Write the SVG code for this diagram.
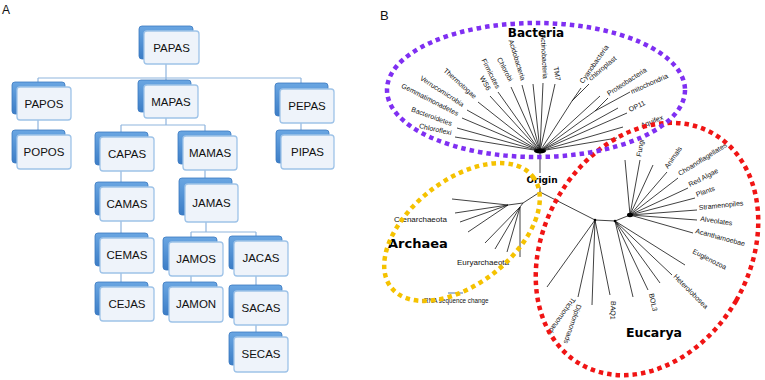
<svg xmlns="http://www.w3.org/2000/svg" width="765" height="380" viewBox="0 0 765 380">
<defs>
<linearGradient id="gBack" x1="0" y1="0" x2="0" y2="1">
<stop offset="0" stop-color="#6aa6e2"/>
<stop offset="1" stop-color="#3c7dc6"/>
</linearGradient>
<style>
.bk{fill:url(#gBack);stroke:#3a78c0;stroke-width:0.8}
.fr{fill:#eef3fa;stroke:#9ec3e8;stroke-width:1.3}
.nt{font-family:"Liberation Sans",Arial,sans-serif;font-size:11.5px;fill:#111;text-anchor:middle}
.cn{stroke:#8fb5de;stroke-width:1.2;fill:none}
.tl{stroke:#111;stroke-width:0.8;fill:none}
.lb{font-family:"Liberation Sans",Arial,sans-serif;font-size:7px;fill:#111}
.le{font-family:"Liberation Sans",Arial,sans-serif;font-size:7px;fill:#111;text-anchor:end}
.ttl{font-family:"DejaVu Sans",Verdana,sans-serif;font-weight:bold;fill:#000}
.dot{fill:none;stroke-width:4.5;stroke-dasharray:4.5 4}
.pl{font-family:"Liberation Sans",Arial,sans-serif;font-size:12px;fill:#111}
</style>
</defs>
<rect width="765" height="380" fill="#fff"/>
<text class="pl" x="2" y="14">A</text>
<text class="pl" x="380" y="20" style="font-size:13px">B</text>

<g id="connectors">
<path class="cn" d="M166,64V78M38,78H301M38,78V87M166,78V85M301,78V89"/>
<path class="cn" d="M38,120V135M301,123V135"/>
<path class="cn" d="M166,118V125M121,125H205M121,125V137M205,125V136"/>
<path class="cn" d="M121,171V187M121,221V238M121,273V287"/>
<path class="cn" d="M205,170V184M206,220V232M191,232H256M191,232V242M256,232V241"/>
<path class="cn" d="M191,276V287M256,276V291M256,325V337"/>
</g>

<g id="n-papas"><rect class="bk" x="139" y="26" width="54" height="33" rx="3"/><rect class="fr" x="144" y="31" width="55" height="33" rx="3"/><text class="nt" x="171.5" y="52">PAPAS</text></g>
<g id="n-papos"><rect class="bk" x="12" y="82" width="53" height="32" rx="3"/><rect class="fr" x="17" y="87" width="54" height="33" rx="3"/><text class="nt" x="44" y="108">PAPOS</text></g>
<g id="n-mapas"><rect class="bk" x="138" y="80" width="53" height="32" rx="3"/><rect class="fr" x="144" y="85" width="54" height="33" rx="3"/><text class="nt" x="171" y="106">MAPAS</text></g>
<g id="n-pepas"><rect class="bk" x="275" y="83" width="53" height="33" rx="3"/><rect class="fr" x="280" y="89" width="54" height="34" rx="3"/><text class="nt" x="307" y="110">PEPAS</text></g>
<g id="n-popos"><rect class="bk" x="12" y="130" width="53" height="33" rx="3"/><rect class="fr" x="17" y="135" width="54" height="34" rx="3"/><text class="nt" x="44" y="156">POPOS</text></g>
<g id="n-capas"><rect class="bk" x="95" y="132" width="53" height="33" rx="3"/><rect class="fr" x="100" y="137" width="54" height="34" rx="3"/><text class="nt" x="127" y="158">CAPAS</text></g>
<g id="n-mamas"><rect class="bk" x="178" y="131" width="53" height="33" rx="3"/><rect class="fr" x="183" y="136" width="54" height="34" rx="3"/><text class="nt" x="210" y="157">MAMAS</text></g>
<g id="n-pipas"><rect class="bk" x="276" y="130" width="53" height="33" rx="3"/><rect class="fr" x="281" y="135" width="53" height="34" rx="3"/><text class="nt" x="307.5" y="156">PIPAS</text></g>
<g id="n-camas"><rect class="bk" x="95" y="182" width="53" height="33" rx="3"/><rect class="fr" x="100" y="187" width="54" height="34" rx="3"/><text class="nt" x="127" y="208">CAMAS</text></g>
<g id="n-jamas"><rect class="bk" x="179" y="178" width="53" height="37" rx="3"/><rect class="fr" x="185" y="184" width="53" height="38" rx="3"/><text class="nt" x="211.5" y="207">JAMAS</text></g>
<g id="n-cemas"><rect class="bk" x="95" y="233" width="53" height="33" rx="3"/><rect class="fr" x="100" y="238" width="54" height="35" rx="3"/><text class="nt" x="127" y="259">CEMAS</text></g>
<g id="n-jamos"><rect class="bk" x="163" y="237" width="54" height="33" rx="3"/><rect class="fr" x="169" y="242" width="54" height="34" rx="3"/><text class="nt" x="196" y="263">JAMOS</text></g>
<g id="n-jacas"><rect class="bk" x="229" y="236" width="53" height="33" rx="3"/><rect class="fr" x="234" y="241" width="54" height="35" rx="3"/><text class="nt" x="261" y="262">JACAS</text></g>
<g id="n-cejas"><rect class="bk" x="95" y="282" width="53" height="33" rx="3"/><rect class="fr" x="100" y="287" width="54" height="34" rx="3"/><text class="nt" x="127" y="308">CEJAS</text></g>
<g id="n-jamon"><rect class="bk" x="163" y="282" width="54" height="33" rx="3"/><rect class="fr" x="169" y="287" width="54" height="35" rx="3"/><text class="nt" x="196" y="308">JAMON</text></g>
<g id="n-sacas"><rect class="bk" x="229" y="285" width="53" height="33" rx="3"/><rect class="fr" x="234" y="291" width="54" height="34" rx="3"/><text class="nt" x="261" y="312">SACAS</text></g>
<g id="n-secas"><rect class="bk" x="229" y="332" width="53" height="33" rx="3"/><rect class="fr" x="234" y="337" width="54" height="35" rx="3"/><text class="nt" x="261" y="358">SECAS</text></g>

<g id="tree-lines">
<path class="tl" d="M540,151L455,137M540,151L457,128M540,151L462,118M540,151L467,110M540,151L478,102M540,151L490,96M540,151L498,92M540,151L511,87M540,151L522,85M540,151L533,84M540,151L543,83M540,151L555,84"/>
<path class="tl" d="M540,151L572,101L581,88M572,101L589,84M540,151L600,96M540,151L595,111L608,98M595,111L630,92M540,151L618,108M540,151L627,113M540,151L623,127M540,151L617,138"/>
<ellipse cx="540" cy="151" rx="6" ry="2.5" fill="#000"/>
<path class="tl" d="M540,151V173M540,187V192"/>
<path class="tl" d="M540,192L523,203L508,205M523,203L520,207"/>
<path class="tl" d="M508,205L452,199M508,205L455,213M508,205L460,222M508,205L468,232"/>
<path class="tl" d="M520,207L485,243M520,207L495,249M520,207L507,252M520,207L520,257"/>
<path class="tl" d="M540,192L595,220L615,221L630,215"/>
<path class="tl" d="M630,215L625,160M630,215L640,160M630,215L653,165M630,215L667,172M630,215L678,178M630,215L688,188M630,215L695,198M630,215L697,210M630,215L697,220M630,215L693,233"/>
<ellipse cx="630" cy="215" rx="3" ry="2.2" fill="#000"/>
<path class="tl" d="M615,221L685,265M615,221L672,275M615,221L660,283M615,221L648,290M615,221L633,297"/>
<path class="tl" d="M595,220L547,287M595,220L578,297M595,220L592,305M595,220L610,295"/>
<circle cx="595" cy="220" r="1.3" fill="#000"/>
<circle cx="615" cy="221" r="1.3" fill="#000"/>
<path d="M448,293H463" stroke="#8aa2c4" stroke-width="1.5"/>
</g>

<g id="tree-labels">
<text class="le" transform="translate(451,135) rotate(12)">Chloroflexi</text>
<text class="le" transform="translate(451,126) rotate(20)">Bacteroidetes</text>
<text class="le" transform="translate(457,116) rotate(27)">Gemmatimonadetes</text>
<text class="le" transform="translate(462,107) rotate(33)">Verrucomicrobia</text>
<text class="le" transform="translate(474,99) rotate(42)">Thermotogae</text>
<text class="le" transform="translate(487,91) rotate(60)">WS6</text>
<text class="le" transform="translate(496,89) rotate(63)">Firmicutes</text>
<text class="le" transform="translate(509,82) rotate(62)">Chlorobi</text>
<text class="le" transform="translate(521,81) rotate(73)">Acidobacteria</text>
<text class="le" transform="translate(543,79) rotate(87)">Actinobacteria</text>
<text class="le" transform="translate(556,81) rotate(80)">TM7</text>
<text class="lb" transform="translate(583,84) rotate(-55)">Cyanobacteria</text>
<text class="lb" transform="translate(591,81) rotate(-40)">chloroplast</text>
<text class="lb" transform="translate(609,96) rotate(-33)">Proteobacteria</text>
<text class="lb" transform="translate(632,94) rotate(-24)">mitochondria</text>
<text class="lb" transform="translate(630,112) rotate(-25)">OP11</text>
<text class="lb" transform="translate(642,128) rotate(-22)">Aquifex</text>
<text class="lb" transform="translate(641,157) rotate(-80)">Fungi</text>
<text class="lb" transform="translate(668,169) rotate(-55)">Animals</text>
<text class="lb" transform="translate(680,176) rotate(-32)">Choanoflagellates</text>
<text class="lb" transform="translate(690,187) rotate(-27)">Red  Algae</text>
<text class="lb" transform="translate(697,197) rotate(-20)">Plants</text>
<text class="lb" transform="translate(699,210) rotate(-6)">Stramenopiles</text>
<text class="lb" transform="translate(700,221) rotate(8)">Alveolates</text>
<text class="lb" transform="translate(695,233) rotate(15)">Acanthamoebae</text>
<text class="lb" transform="translate(692,253) rotate(27)">Euglenozoa</text>
<text class="lb" transform="translate(673,277) rotate(45)">Heterolobosea</text>
<text class="lb" transform="translate(649,294) rotate(78)">BOL3</text>
<text class="lb" transform="translate(611,301) rotate(92)">BAQ1</text>
<text class="lb" transform="translate(577,304) rotate(109)">Diplomonads</text>
<text class="lb" transform="translate(572,297) rotate(125)">Trichomonads</text>
<text class="lb" x="394" y="222" style="font-size:8px">Crenarchaeota</text>
<text class="lb" x="457" y="265" style="font-size:8px">Euryarchaeota</text>
<text class="lb" x="422" y="303" style="font-size:6.3px">rRNA sequence change</text>
<text class="ttl" x="536" y="37" text-anchor="middle" font-size="12">Bacteria</text>
<text class="ttl" x="388" y="248" font-size="13">Archaea</text>
<text class="ttl" x="654" y="337" text-anchor="middle" font-size="12.5">Eucarya</text>
<text class="ttl" x="542" y="183" text-anchor="middle" font-size="9">Origin</text>
</g>

<g id="groups">
<ellipse class="dot" cx="647" cy="249" rx="103" ry="133" transform="rotate(30 647 249)" stroke="#f01414"/>
<ellipse class="dot" cx="536" cy="90" rx="149" ry="67" stroke="#7f2ff2"/>
<ellipse class="dot" cx="462" cy="232" rx="90" ry="52" transform="rotate(-38 462 232)" stroke="#f5c200"/>
</g>
</svg>
